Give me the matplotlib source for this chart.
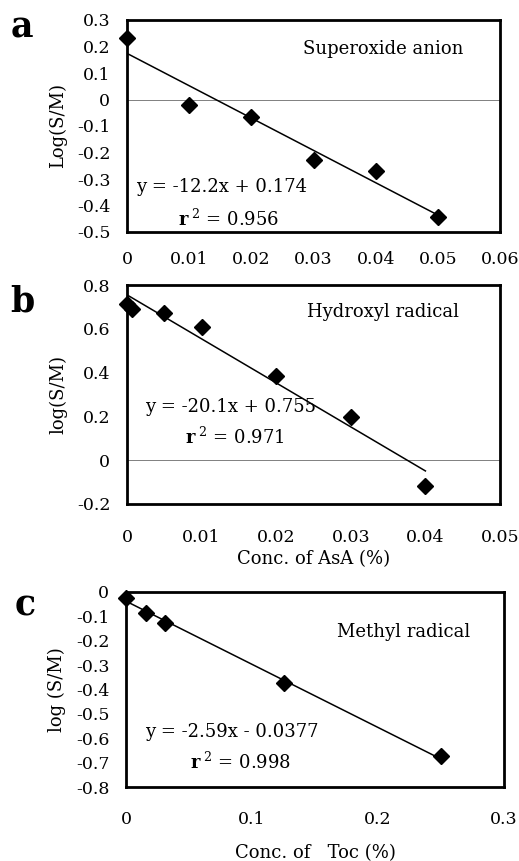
import numpy as np
import matplotlib
matplotlib.use("Agg")
import matplotlib.pyplot as plt

plt.rcParams['font.family'] = ['DejaVu Serif']
plt.rcParams['mathtext.fontset'] = 'dejavuserif'

# Panel a: superoxide anion
xa = [0, 0.01, 0.02, 0.03, 0.04, 0.05]
ya = [0.231, -0.019, -0.065, -0.228, -0.269, -0.445]
slope_a, icpt_a = -12.2, 0.174

# Panel b: hydroxyl radical
xb = [0, 0.0007, 0.005, 0.01, 0.02, 0.03, 0.04]
yb = [0.713, 0.69, 0.67, 0.607, 0.384, 0.198, -0.119]
slope_b, icpt_b = -20.1, 0.755

# Panel c: methyl radical
xc = [0, 0.015625, 0.03125, 0.125, 0.25]
yc = [-0.026, -0.085, -0.126, -0.374, -0.672]
slope_c, icpt_c = -2.59, -0.0377

W, H = 519, 861
fig = plt.figure(figsize=(W / 100, H / 100), dpi=100)


def px_axes(left, right, top, bottom):
    return fig.add_axes([left / W, 1 - bottom / H, (right - left) / W, (bottom - top) / H])


def style(ax, xlim, ylim, xticks, yticks, xpad):
    ax.set_xlim(*xlim)
    ax.set_ylim(*ylim)
    ax.set_xticks(xticks)
    ax.set_yticks(yticks)
    ax.set_xticklabels([f"{t:g}" for t in xticks])
    ax.set_yticklabels([f"{t:g}" for t in yticks])
    ax.tick_params(length=0, labelsize=12.5)
    ax.tick_params(axis='y', pad=12)
    ax.tick_params(axis='x', pad=xpad)
    for s in ax.spines.values():
        s.set_linewidth(2)


def fit(ax, x, slope, icpt):
    xx = np.array([min(x), max(x)])
    ax.plot(xx, slope * xx + icpt, color='black', lw=1.1)


fs = 13
ms = 8.5

# a
ax = px_axes(127, 500, 20, 232)
style(ax, (0, 0.06), (-0.5, 0.3), [0, 0.01, 0.02, 0.03, 0.04, 0.05, 0.06],
      [0.3, 0.2, 0.1, 0, -0.1, -0.2, -0.3, -0.4, -0.5], 14)
ax.axhline(0, color='gray', lw=0.7)
fit(ax, xa, slope_a, icpt_a)
ax.plot(xa, ya, 'D', color='black', ms=ms, clip_on=False, zorder=5)
ax.text(0.0283, 0.19, 'Superoxide anion', fontsize=fs, va='center')
ax.text(0.0015, -0.332, 'y = -12.2x + 0.174', fontsize=fs, va='center')
ax.text(0.0082, -0.451, r'$\mathbf{r}^{\ 2}$ = 0.956', fontsize=fs, va='center')
ax.set_ylabel('Log(S/M)', fontsize=13)
ax.yaxis.set_label_coords(-0.16, 0.5)
fig.text(22 / W, 1 - 28 / H, 'a', fontsize=25, fontweight='bold', ha='center', va='center')

# b
ax = px_axes(127, 500, 285, 504)
style(ax, (0, 0.05), (-0.2, 0.8), [0, 0.01, 0.02, 0.03, 0.04, 0.05],
      [0.8, 0.6, 0.4, 0.2, 0, -0.2], 18)
ax.axhline(0, color='gray', lw=0.7)
fit(ax, xb, slope_b, icpt_b)
ax.plot(xb, yb, 'D', color='black', ms=ms, clip_on=False, zorder=5)
ax.text(0.0241, 0.677, 'Hydroxyl radical', fontsize=fs, va='center')
ax.text(0.0024, 0.242, 'y = -20.1x + 0.755', fontsize=fs, va='center')
ax.text(0.0078, 0.105, r'$\mathbf{r}^{\ 2}$ = 0.971', fontsize=fs, va='center')
ax.set_ylabel('log(S/M)', fontsize=13)
ax.yaxis.set_label_coords(-0.16, 0.5)
ax.set_xlabel('Conc. of AsA (%)', fontsize=13, labelpad=3)
fig.text(22 / W, 1 - 302 / H, 'b', fontsize=25, fontweight='bold', ha='center', va='center')

# c
ax = px_axes(126, 504, 592, 787)
style(ax, (0, 0.3), (-0.8, 0), [0, 0.1, 0.2, 0.3],
      [0, -0.1, -0.2, -0.3, -0.4, -0.5, -0.6, -0.7, -0.8], 17)
fit(ax, xc, slope_c, icpt_c)
ax.plot(xc, yc, 'D', color='black', ms=ms, clip_on=False, zorder=5)
ax.text(0.1675, -0.164, 'Methyl radical', fontsize=fs, va='center')
ax.text(0.0151, -0.574, 'y = -2.59x - 0.0377', fontsize=fs, va='center')
ax.text(0.0508, -0.697, r'$\mathbf{r}^{\ 2}$ = 0.998', fontsize=fs, va='center')
ax.set_ylabel('log (S/M)', fontsize=13)
ax.yaxis.set_label_coords(-0.159, 0.5)
ax.set_xlabel('Conc. of   Toc (%)', fontsize=13, labelpad=12)
fig.text(25 / W, 1 - 605 / H, 'c', fontsize=25, fontweight='bold', ha='center', va='center')

fig.savefig('out.png', dpi=100)
